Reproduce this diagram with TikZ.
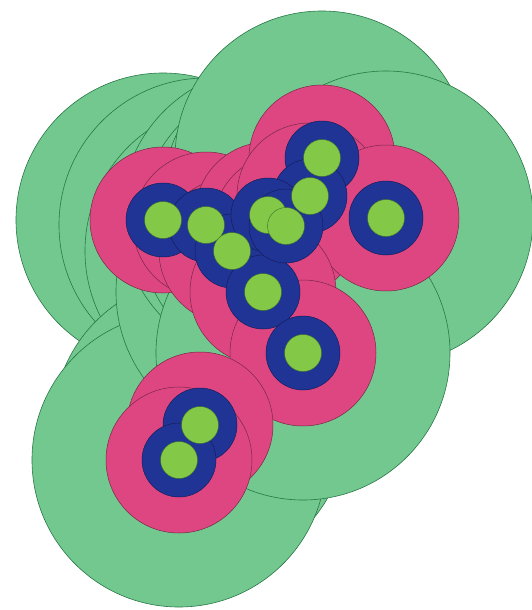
\documentclass[tikz,border=0pt]{standalone}
\definecolor{bigG}{RGB}{114,200,142}
\definecolor{bigGline}{RGB}{40,120,70}
\definecolor{pinkF}{RGB}{222,70,130}
\definecolor{pinkL}{RGB}{120,40,70}
\definecolor{blueF}{RGB}{32,52,150}
\definecolor{blueL}{RGB}{20,30,90}
\definecolor{dotF}{RGB}{132,200,72}
\definecolor{dotL}{RGB}{60,110,40}
\tikzset{
  biggreen/.style={fill=bigG,draw=bigGline,line width=0.6pt},
  pinkdisc/.style={fill=pinkF,draw=pinkL,line width=0.5pt},
  bluedisc/.style={fill=blueF,draw=blueL,line width=0.5pt},
  dotdisc/.style={fill=dotF,draw=dotL,line width=0.4pt}
}
\begin{document}
\begin{tikzpicture}[x=1pt,y=-1pt]
\useasboundingbox (0,0) rectangle (532,610);
% big green layer
\foreach \p in {(163,220),(206,225),(232,251),(200,425),(179,460),(263,292),(268,215),(286,226),(310,196),(322,158),(386,218),(303,353)}
  \draw[biggreen] \p circle[radius=147];
% pink layer
\foreach \p in {(163,220),(206,225),(232,251),(268,215),(286,226),(322,158),(310,196),(386,218),(263,292),(303,353),(200,425),(179,460)}
  \draw[pinkdisc] \p circle[radius=73];
% blue layer
\foreach \p in {(163,220),(206,225),(232,251),(263,292),(303,353),(200,425),(179,460),(386,218),(322,158),(310,196),(268,215),(286,226)}
  \draw[bluedisc] \p circle[radius=37];
% small dots
\foreach \p in {(163,220),(206,225),(232,251),(263,292),(303,353),(200,425),(179,460),(386,218),(322,158),(310,196),(268,215),(286,226)}
  \draw[dotdisc] \p circle[radius=18.5];
\end{tikzpicture}
\end{document}
